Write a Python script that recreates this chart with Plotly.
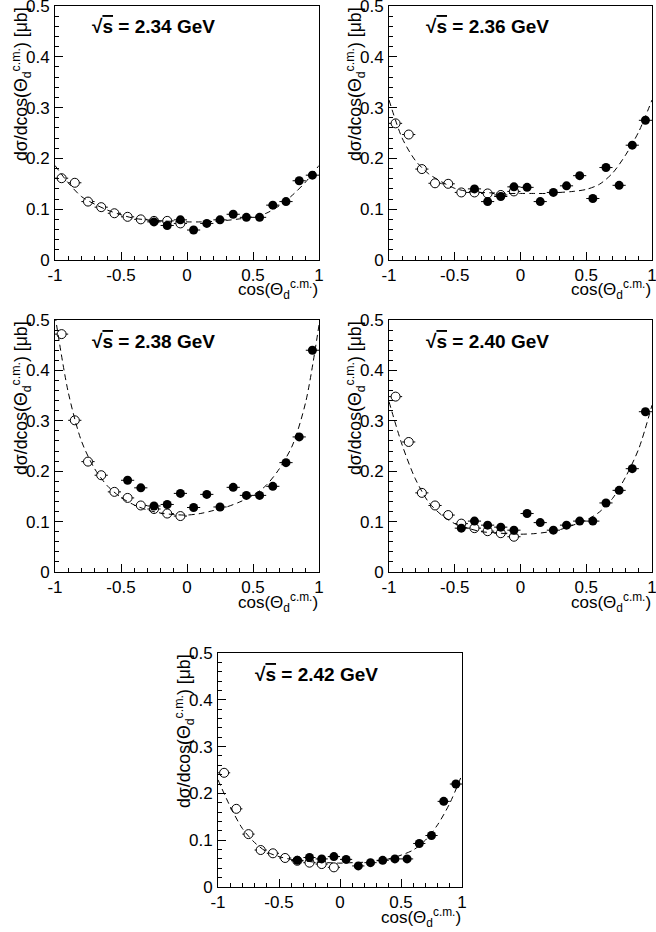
import plotly.graph_objects as go

W, H = 656, 932

# ---------------- data ----------------
energies = ["2.34", "2.36", "2.38", "2.40", "2.42"]

bin_centers = [-0.95, -0.85, -0.75, -0.65, -0.55, -0.45, -0.35, -0.25, -0.15, -0.05,
               0.05, 0.15, 0.25, 0.35, 0.45, 0.55, 0.65, 0.75, 0.85, 0.95]

# open circles (backward region)
open_234 = [0.161, 0.152, 0.115, 0.104, 0.092, 0.085, 0.080, 0.077, 0.077, 0.072]
open_236 = [0.269, 0.247, 0.179, 0.151, 0.150, 0.133, 0.133, 0.131, 0.128, 0.135]
open_238 = [0.472, 0.301, 0.219, 0.192, 0.159, 0.147, 0.132, 0.125, 0.116, 0.111]
open_240 = [0.348, 0.258, 0.157, 0.132, 0.113, 0.096, 0.087, 0.081, 0.077, 0.070]
open_242 = [0.244, 0.167, 0.113, 0.079, 0.072, 0.062, 0.056, 0.052, 0.049, 0.042]

# filled circles (forward region); first bin center listed separately
filled_start = [-0.25, -0.35, -0.45, -0.45, -0.35]
filled_234 = [0.075, 0.068, 0.079, 0.059, 0.072, 0.079, 0.090, 0.084, 0.084, 0.108, 0.115, 0.156, 0.167]
filled_236 = [0.140, 0.115, 0.125, 0.144, 0.143, 0.115, 0.133, 0.146, 0.166, 0.121, 0.182, 0.147, 0.226, 0.275]
filled_238 = [0.182, 0.167, 0.131, 0.134, 0.156, 0.128, 0.154, 0.129, 0.168, 0.152, 0.152, 0.170, 0.217, 0.268, 0.440]
filled_240 = [0.087, 0.101, 0.093, 0.089, 0.083, 0.116, 0.098, 0.083, 0.093, 0.101, 0.101, 0.137, 0.162, 0.205, 0.318]
filled_242 = [0.057, 0.063, 0.060, 0.065, 0.059, 0.045, 0.052, 0.057, 0.060, 0.060, 0.093, 0.110, 0.183, 0.220]

# small statistical errors (approx.)
open_err = [0.006, 0.007, 0.008, 0.008, 0.006]
filled_err = [0.006, 0.007, 0.007, 0.007, 0.008]
half_bin = 0.05

# fit curves (dashed) read at these abscissae
curve_x = [-1.0, -0.9, -0.8, -0.7, -0.6, -0.5, -0.4, -0.3, -0.2, -0.1, 0.0,
           0.1, 0.2, 0.3, 0.4, 0.5, 0.6, 0.7, 0.8, 0.9, 1.0]
curve_234 = [0.186, 0.152, 0.125, 0.110, 0.098, 0.089, 0.082, 0.079, 0.077, 0.076, 0.075,
             0.075, 0.076, 0.078, 0.081, 0.085, 0.092, 0.107, 0.128, 0.154, 0.186]
curve_236 = [0.315, 0.240, 0.196, 0.170, 0.154, 0.141, 0.135, 0.133, 0.132, 0.131, 0.131,
             0.131, 0.131, 0.133, 0.135, 0.139, 0.149, 0.171, 0.207, 0.253, 0.315]
curve_238 = [0.510, 0.357, 0.260, 0.205, 0.170, 0.148, 0.133, 0.123, 0.117, 0.114, 0.113,
             0.116, 0.122, 0.129, 0.139, 0.152, 0.172, 0.205, 0.252, 0.338, 0.490]
curve_240 = [0.338, 0.252, 0.185, 0.139, 0.113, 0.096, 0.087, 0.080, 0.078, 0.076, 0.075,
             0.076, 0.079, 0.084, 0.093, 0.103, 0.119, 0.146, 0.189, 0.245, 0.331]
curve_242 = [0.229, 0.172, 0.125, 0.095, 0.075, 0.065, 0.059, 0.056, 0.053, 0.052, 0.051,
             0.052, 0.053, 0.056, 0.060, 0.068, 0.079, 0.100, 0.133, 0.179, 0.240]

x_tick_vals = [-1, -0.5, 0, 0.5, 1]
x_tick_text = ["-1", "-0.5", "0", "0.5", "1"]
y_tick_vals = [0, 0.1, 0.2, 0.3, 0.4, 0.5]
y_tick_text = ["0", "0.1", "0.2", "0.3", "0.4", "0.5"]

opens = [open_234, open_236, open_238, open_240, open_242]
filleds = [filled_234, filled_236, filled_238, filled_240, filled_242]
curves = [curve_234, curve_236, curve_238, curve_240, curve_242]

# ---------------- layout geometry (pixels: left, right, top, bottom) ----------------
panels = [
    (55, 319, 6, 260),
    (389, 652, 6, 260),
    (55, 319, 320, 572),
    (389, 652, 320, 572),
    (218, 462, 653, 887),
]

FONT = "Liberation Sans, Arial, Helvetica, sans-serif"

fig = go.Figure()
layout = dict(
    template="none",
    width=W, height=H,
    margin=dict(l=0, r=0, t=0, b=0, autoexpand=False),
    paper_bgcolor="white", plot_bgcolor="white",
    showlegend=False,
    font=dict(family=FONT, color="black"),
)
annotations = []

def px_x(p):
    return p / W

def px_y(p):
    return 1 - p / H

for i, (l, r, t, b) in enumerate(panels):
    n = i + 1
    xa = "x" if n == 1 else f"x{n}"
    ya = "y" if n == 1 else f"y{n}"
    xkey = "xaxis" if n == 1 else f"xaxis{n}"
    ykey = "yaxis" if n == 1 else f"yaxis{n}"

    # open circles (hollow look: white inside hides error bar, curve drawn on top)
    ox = bin_centers[:len(opens[i])]
    fig.add_trace(go.Scatter(
        x=ox, y=opens[i], mode="markers", xaxis=xa, yaxis=ya,
        marker=dict(symbol="circle", size=9, color="white", line=dict(width=1, color="black")),
        error_x=dict(type="constant", value=half_bin, color="black", thickness=1, width=0),
        error_y=dict(type="constant", value=open_err[i], color="black", thickness=1, width=0)))

    # filled circles
    k0 = bin_centers.index(filled_start[i])
    fx = bin_centers[k0:k0 + len(filleds[i])]
    fig.add_trace(go.Scatter(
        x=fx, y=filleds[i], mode="markers", xaxis=xa, yaxis=ya,
        marker=dict(symbol="circle", size=9, color="black"),
        error_x=dict(type="constant", value=half_bin, color="black", thickness=1, width=0),
        error_y=dict(type="constant", value=filled_err[i], color="black", thickness=1, width=0)))

    # fit curve
    fig.add_trace(go.Scatter(
        x=curve_x, y=curves[i], mode="lines", xaxis=xa, yaxis=ya,
        line=dict(color="black", width=1, dash="6px,4px", shape="spline", smoothing=0.8),
        hoverinfo="skip"))

    layout[xkey] = dict(
        domain=[px_x(l), px_x(r)], anchor=ya, range=[-1, 1], automargin=False,
        showline=True, linecolor="black", linewidth=1, mirror=True,
        showgrid=False, zeroline=False,
        ticks="inside", ticklen=8, tickcolor="black", tickwidth=1,
        tickvals=x_tick_vals, ticktext=x_tick_text,
        tickfont=dict(size=17, family=FONT, color="black"),
        ticklabeloverflow="allow",
        minor=dict(ticks="inside", ticklen=4, dtick=0.1, tick0=0, tickcolor="black", showgrid=False),
    )
    layout[ykey] = dict(
        domain=[px_y(b), px_y(t)], anchor=xa, range=[0, 0.5], automargin=False,
        showline=True, linecolor="black", linewidth=1, mirror=True,
        showgrid=False, zeroline=False,
        ticks="inside", ticklen=8, tickcolor="black", tickwidth=1,
        tickvals=y_tick_vals, ticktext=y_tick_text,
        tickfont=dict(size=17, family=FONT, color="black"),
        ticklabelstandoff=1, ticklabeloverflow="allow",
        minor=dict(ticks="inside", ticklen=4, dtick=0.02, tick0=0, tickcolor="black", showgrid=False),
    )

    # energy label
    annotations.append(dict(
        xref="paper", yref="paper", x=px_x(l + 35), y=px_y(t + 21),
        xanchor="left", yanchor="middle", showarrow=False,
        text=f"<b>√<span style='text-decoration:overline'>s</span> = {energies[i]} GeV</b>",
        font=dict(size=19, family=FONT, color="black")))

    # y title
    annotations.append(dict(
        xref="paper", yref="paper", x=px_x(l - 34), y=px_y(t - 1),
        xanchor="center", yanchor="top", showarrow=False, textangle=-90,
        text="dσ/dcos(Θ<sub>d</sub><sup>c.m.</sup>) [μb]",
        font=dict(size=17.7, family=FONT, color="black")))

    # x title
    annotations.append(dict(
        xref="paper", yref="paper", x=px_x(r + 1), y=px_y(b + 30),
        xanchor="right", yanchor="middle", showarrow=False,
        text="cos(Θ<sub>d</sub><sup>c.m.</sup>)",
        font=dict(size=17, family=FONT, color="black")))

layout["annotations"] = annotations
fig.update_layout(**layout)
fig.write_html("out.html", config={"displayModeBar": False},
               post_script="document.body.style.margin='0px';")
